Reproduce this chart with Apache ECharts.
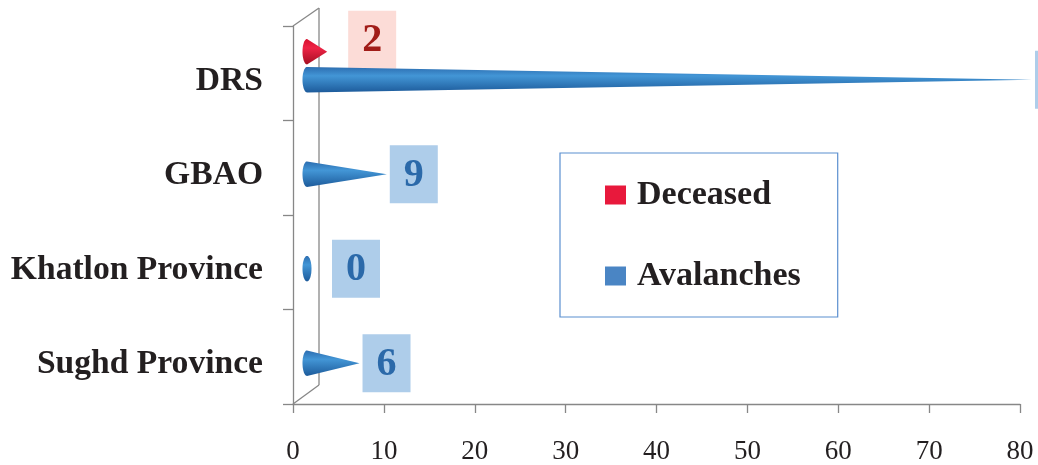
<!DOCTYPE html>
<html>
<head>
<meta charset="utf-8">
<script src="https://cdn.jsdelivr.net/npm/echarts@6/dist/echarts.min.js"></script>
<style>
html,body{margin:0;padding:0;background:#fff;}
#chart{width:1038px;height:465px;}
</style>
</head>
<body>
<div id="chart"></div>
<script>
const categories = ['DRS', 'GBAO', 'Khatlon Province', 'Sughd Province'];
const deceased = [2, null, null, null];
const avalanches = [80, 9, 0, 6];
const xMin = 0, xMax = 80, xInterval = 10;
const seriesNames = ['Deceased', 'Avalanches'];

const FONT = '"Liberation Serif", "Times New Roman", serif';

const palettes = [
  { legend: '#e8193c',
    grad: [[0, '#d8102e'], [0.35, '#ee2446'], [1, '#a50f22']],
    box: '#fcdcd7', text: '#a11c18' },
  { legend: '#4a85c4',
    grad: [[0, '#2c6db0'], [0.35, '#4396d6'], [1, '#1d5b9b']],
    box: '#aecdea', text: '#2b69a9' }
];

function gradient(p) {
  return new echarts.graphic.LinearGradient(0, 0, 0, 1,
    p.grad.map(s => ({ offset: s[0], color: s[1] })));
}

function coneRenderer(sIdx) {
  const pal = palettes[sIdx];
  return function (params, api) {
    const v = api.value(0);
    if (v === null || v === undefined || isNaN(v)) return;
    const cat = api.value(1);
    const band = api.size([0, 1])[1];
    const p0 = api.coord([0, cat]);
    const p1 = api.coord([v, cat]);
    const cy = p0[1] - band * 0.08 + (sIdx === 0 ? -1 : 1) * band * 0.148;
    const ry = band * 0.135;
    const rx = 4.5;
    const baseX = p0[0] + 14;
    const tipX = p1[0] + (sIdx === 0 ? 16 : 12);
    const children = [];
    const pts = [];
    const N = 24;
    if (v > 0) {
      for (let i = 0; i <= N; i++) {
        const th = Math.PI / 2 + Math.PI * i / N;
        pts.push([baseX + rx * Math.cos(th), cy - ry * Math.sin(th)]);
      }
      pts.push([tipX, cy]);
    } else {
      for (let i = 0; i < 2 * N; i++) {
        const th = Math.PI * i / N;
        pts.push([baseX + rx * Math.cos(th), cy - ry * Math.sin(th)]);
      }
    }
    children.push({
      type: 'polygon',
      shape: { points: pts },
      style: { fill: gradient(pal) }
    });
    const bw = 48, bh = 58;
    let boxLeft, boxCY;
    if (sIdx === 0) {
      boxLeft = tipX + 21;
      boxCY = cy - 12;
    } else {
      boxLeft = Math.max(tipX + 3, baseX + 25);
      boxCY = cy;
    }
    children.push({
      type: 'rect',
      shape: { x: boxLeft, y: boxCY - bh / 2, width: bw, height: bh },
      style: { fill: pal.box }
    });
    children.push({
      type: 'text',
      style: {
        text: String(v), x: boxLeft + bw / 2, y: boxCY + 1,
        align: 'center', verticalAlign: 'middle',
        font: 'bold 40px ' + FONT, fill: pal.text
      }
    });
    return { type: 'group', children: children };
  };
}

function frameRenderer(params, api) {
  const cs = params.coordSys;
  const dx = 26, dy = -18;
  const x = cs.x, y = cs.y, h = cs.height;
  const st = { stroke: '#878787', lineWidth: 1.3 };
  return {
    type: 'group',
    children: [
      { type: 'line', shape: { x1: x + dx, y1: y + dy, x2: x + dx, y2: y + h + dy - 1 }, style: st },
      { type: 'line', shape: { x1: x, y1: y, x2: x + dx, y2: y + dy }, style: st },
      { type: 'line', shape: { x1: x, y1: y + h, x2: x + dx, y2: y + h + dy - 1 }, style: st }
    ]
  };
}

const chart = echarts.init(document.getElementById('chart'), null, { renderer: 'canvas' });

const option = {
  animation: false,
  backgroundColor: '#ffffff',
  grid: { left: 293, right: 18, top: 26, bottom: 61, containLabel: false },
  xAxis: {
    type: 'value', min: xMin, max: xMax, interval: xInterval,
    axisLine: { show: true, lineStyle: { color: '#878787', width: 1.3 } },
    axisTick: { show: true, length: 9, lineStyle: { color: '#878787', width: 1.3 } },
    splitLine: { show: false },
    axisLabel: { color: '#231f20', fontFamily: FONT, fontSize: 27, margin: 34 }
  },
  yAxis: {
    type: 'category', data: categories, inverse: true,
    axisLine: { show: true, lineStyle: { color: '#878787', width: 1.3 } },
    axisTick: { show: true, length: 10, lineStyle: { color: '#878787', width: 1.3 } },
    axisLabel: { color: '#231f20', fontFamily: FONT, fontSize: 33.6, fontWeight: 'bold',
      margin: 30, verticalAlign: 'top', lineHeight: 16 }
  },
  legend: {
    orient: 'vertical', left: 560, top: 153,
    padding: [25, 37, 24, 45],
    itemGap: 47, itemWidth: 21, itemHeight: 19,
    borderColor: '#5b8fd0', borderWidth: 1.2,
    icon: 'rect',
    data: seriesNames,
    textStyle: { fontFamily: FONT, fontSize: 34, fontWeight: 'bold', color: '#231f20',
      padding: [0, 0, 0, 6] }
  },
  series: [
    {
      name: 'frame', type: 'custom', z: 1, silent: true,
      renderItem: frameRenderer,
      data: [[0, 0]], encode: { x: 0, y: 1 }
    },
    {
      name: seriesNames[0], type: 'custom', z: 3,
      itemStyle: { color: palettes[0].legend },
      renderItem: coneRenderer(0),
      encode: { x: 0, y: 1 },
      data: deceased.map((v, i) => [v === null ? '-' : v, i])
    },
    {
      name: seriesNames[1], type: 'custom', z: 3,
      itemStyle: { color: palettes[1].legend },
      renderItem: coneRenderer(1),
      encode: { x: 0, y: 1 },
      data: avalanches.map((v, i) => [v, i])
    }
  ]
};
chart.setOption(option);
</script>
</body>
</html>
